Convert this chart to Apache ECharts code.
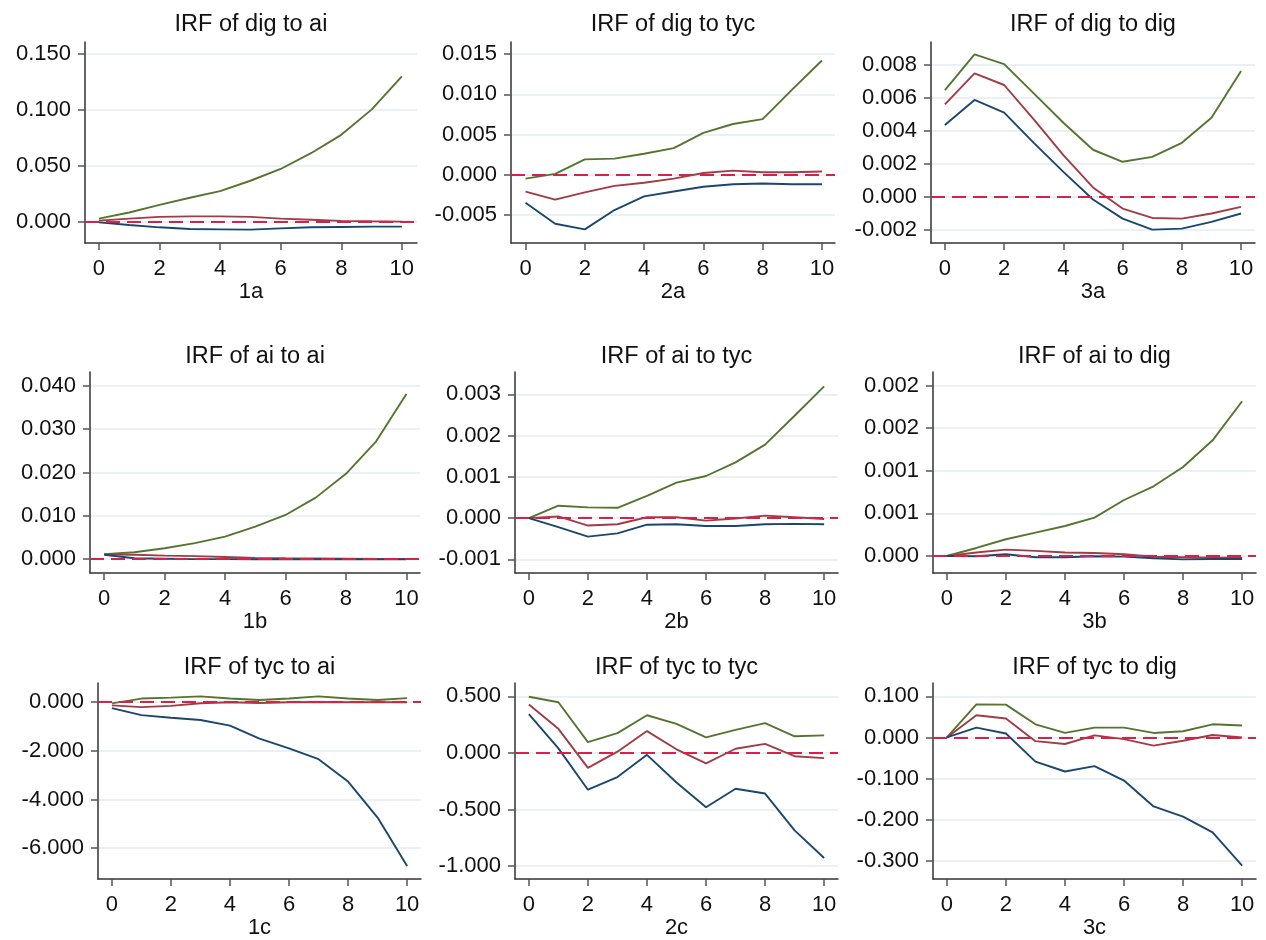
<!DOCTYPE html>
<html>
<head>
<meta charset="utf-8">
<title>IRF</title>
<script src="https://cdn.jsdelivr.net/npm/echarts@6/dist/echarts.min.js"></script>
<style>
    html, body { margin: 0; padding: 0; background: #fff; }
    #main { width: 1266px; height: 940px; }
</style>
</head>
<body>
<div id="main"></div>
<script>
var steps = [0, 1, 2, 3, 4, 5, 6, 7, 8, 9, 10];
var xTicks = [0, 2, 4, 6, 8, 10];

var panelTitles = ['IRF of dig to ai', 'IRF of dig to tyc', 'IRF of dig to dig',
    'IRF of ai to ai', 'IRF of ai to tyc', 'IRF of ai to dig',
    'IRF of tyc to ai', 'IRF of tyc to tyc', 'IRF of tyc to dig'];
var panelNames = ['1a', '2a', '3a', '1b', '2b', '3b', '1c', '2c', '3c'];

// 1a dig -> ai
var digAiUpper = [0.0030, 0.0084, 0.0153, 0.0216, 0.0275, 0.0368, 0.0473, 0.0614, 0.0778, 0.1003, 0.1300];
var digAiIrf = [0.0012, 0.0030, 0.0045, 0.0050, 0.0050, 0.0045, 0.0030, 0.0020, 0.0010, 0.0006, 0.0003];
var digAiLower = [-0.0004, -0.0027, -0.0048, -0.0063, -0.0066, -0.0069, -0.0057, -0.0048, -0.0045, -0.0042, -0.0042];
// 2a dig -> tyc
var digTycUpper = [-0.0005, 0.0001, 0.0019, 0.0020, 0.0026, 0.0033, 0.0052, 0.0063, 0.0069, 0.0106, 0.0142];
var digTycIrf = [-0.0021, -0.0031, -0.0022, -0.0014, -0.0010, -0.0005, 0.0002, 0.0005, 0.0003, 0.0003, 0.0004];
var digTycLower = [-0.0035, -0.0061, -0.0068, -0.0044, -0.0027, -0.0021, -0.0015, -0.0012, -0.0011, -0.0012, -0.0012];
// 3a dig -> dig
var digDigUpper = [0.00648, 0.00865, 0.00806, 0.00628, 0.00450, 0.00286, 0.00213, 0.00243, 0.00328, 0.00480, 0.00764];
var digDigIrf = [0.00561, 0.00750, 0.00679, 0.00470, 0.00253, 0.00057, -0.00071, -0.00128, -0.00132, -0.00101, -0.00061];
var digDigLower = [0.00436, 0.00588, 0.00511, 0.00328, 0.00152, -0.00016, -0.00132, -0.00199, -0.00193, -0.00152, -0.00101];
// 1b ai -> ai
var aiAiUpper = [0.00115, 0.0016, 0.0025, 0.0037, 0.0052, 0.0075, 0.0102, 0.0142, 0.0197, 0.0272, 0.0381];
var aiAiIrf = [0.0011, 0.0010, 0.0008, 0.0007, 0.0005, 0.0003, 0.0002, 0.00015, 0.0001, 0.00005, 0.00003];
var aiAiLower = [0.0010, 0.0002, 0.0001, 0.0000, 0.0000, -0.00003, -0.00003, -0.00004, -0.00004, -0.00005, -0.00005];
// 2b ai -> tyc
var aiTycUpper = [0.0, 0.00030, 0.00026, 0.00025, 0.00054, 0.00086, 0.00102, 0.00135, 0.00178, 0.00248, 0.00319];
var aiTycIrf = [0.0, 0.00004, -0.00018, -0.00015, 0.00002, 0.00002, -0.00006, -0.00001, 0.00006, 0.00002, -0.00002];
var aiTycLower = [0.0, -0.00022, -0.00045, -0.00037, -0.00016, -0.00015, -0.00019, -0.00019, -0.00015, -0.00014, -0.00015];
// 3b ai -> dig
var aiDigUpper = [0.0, 0.000094, 0.000196, 0.000274, 0.000352, 0.000450, 0.000657, 0.000818, 0.001045, 0.001358, 0.001816];
var aiDigIrf = [0.0, 0.000040, 0.000074, 0.000060, 0.000040, 0.000035, 0.000020, -0.000010, -0.000015, -0.000020, -0.000020];
var aiDigLower = [0.0, -0.000004, 0.000020, -0.000015, -0.000015, -0.000004, -0.000008, -0.000027, -0.000040, -0.000035, -0.000035];
// 1c tyc -> ai
var tycAiUpper = [-0.05, 0.15, 0.19, 0.24, 0.15, 0.09, 0.15, 0.24, 0.15, 0.09, 0.17];
var tycAiIrf = [-0.13, -0.20, -0.15, -0.04, 0.00, -0.03, 0.00, 0.01, 0.00, 0.00, 0.00];
var tycAiLower = [-0.24, -0.53, -0.64, -0.73, -0.96, -1.50, -1.90, -2.34, -3.26, -4.74, -6.73];
// 2c tyc -> tyc
var tycTycUpper = [0.497, 0.448, 0.095, 0.175, 0.333, 0.256, 0.138, 0.204, 0.264, 0.147, 0.155];
var tycTycIrf = [0.428, 0.213, -0.132, 0.011, 0.193, 0.032, -0.092, 0.037, 0.080, -0.029, -0.046];
var tycTycLower = [0.342, 0.040, -0.325, -0.213, -0.017, -0.261, -0.480, -0.316, -0.359, -0.684, -0.928];
// 3c tyc -> dig
var tycDigUpper = [0.0, 0.0806, 0.080, 0.032, 0.011, 0.024, 0.024, 0.011, 0.015, 0.032, 0.029];
var tycDigIrf = [0.0, 0.054, 0.046, -0.009, -0.016, 0.005, -0.004, -0.020, -0.008, 0.006, 0.0];
var tycDigLower = [0.0, 0.024, 0.0095, -0.059, -0.083, -0.070, -0.105, -0.168, -0.193, -0.231, -0.312];

var upperList = [digAiUpper, digTycUpper, digDigUpper, aiAiUpper, aiTycUpper, aiDigUpper, tycAiUpper, tycTycUpper, tycDigUpper];
var irfList = [digAiIrf, digTycIrf, digDigIrf, aiAiIrf, aiTycIrf, aiDigIrf, tycAiIrf, tycTycIrf, tycDigIrf];
var lowerList = [digAiLower, digTycLower, digDigLower, aiAiLower, aiTycLower, aiDigLower, tycAiLower, tycTycLower, tycDigLower];

// y axis ticks and their printed labels
var yTicks = [
    [0, 0.05, 0.10, 0.15],
    [-0.005, 0, 0.005, 0.010, 0.015],
    [-0.002, 0, 0.002, 0.004, 0.006, 0.008],
    [0, 0.010, 0.020, 0.030, 0.040],
    [-0.001, 0, 0.001, 0.002, 0.003],
    [0, 0.0005, 0.0010, 0.0015, 0.0020],
    [-6, -4, -2, 0],
    [-1, -0.5, 0, 0.5],
    [-0.3, -0.2, -0.1, 0, 0.1]
];
var yTickLabels = [
    ['0.000', '0.050', '0.100', '0.150'],
    ['-0.005', '0.000', '0.005', '0.010', '0.015'],
    ['-0.002', '0.000', '0.002', '0.004', '0.006', '0.008'],
    ['0.000', '0.010', '0.020', '0.030', '0.040'],
    ['-0.001', '0.000', '0.001', '0.002', '0.003'],
    ['0.000', '0.001', '0.001', '0.002', '0.002'],
    ['-6.000', '-4.000', '-2.000', '0.000'],
    ['-1.000', '-0.500', '0.000', '0.500'],
    ['-0.300', '-0.200', '-0.100', '0.000', '0.100']
];
var yMin = [-0.0188, -0.0085, -0.0028, -0.0032, -0.00133, -0.0002, -7.27, -1.115, -0.345];
var yMax = [0.1607, 0.0165, 0.0094, 0.0432, 0.00354, 0.00216, 0.79, 0.618, 0.1326];
var xMin = [-0.46, -0.49, -0.47, -0.47, -0.47, -0.47, -0.47, -0.47, -0.47];
var xMax = [10.5, 10.44, 10.47, 10.45, 10.47, 10.47, 10.47, 10.47, 10.47];

// plot boxes [left, top, width, height]
var boxes = [
    [85, 42, 332, 201], [511, 42, 324, 201], [931, 42, 324, 201],
    [90, 372, 330, 201], [515, 372, 323, 201], [933, 372, 323, 201],
    [98, 683, 323, 201], [515, 683, 323, 201], [933, 683, 323, 201]
];
var titleY = [25, 25, 25, 357, 357, 357, 668, 668, 668];

var fontFamily = "'Liberation Sans', Arial, sans-serif";
var textColor = '#111';
var colUpper = '#55752f';
var colIrf = '#a03c44';
var colLower = '#1a476f';
var colZero = '#d8204a';

function pairs(values) {
    return steps.map(function (s, i) { return [s, values[i]]; });
}

function tickFormatter(k) {
    return function (v) {
        for (var i = 0; i < yTicks[k].length; i++) {
            if (Math.abs(yTicks[k][i] - v) < 1e-9) {
                return yTickLabels[k][i];
            }
        }
        return '';
    };
}

var grids = [], xAxes = [], yAxes = [], series = [], graphics = [];

for (var k = 0; k < 9; k++) {
    var b = boxes[k];
    grids.push({ left: b[0], top: b[1], width: b[2], height: b[3], containLabel: false });

    xAxes.push({
        type: 'value',
        gridIndex: k,
        min: xMin[k],
        max: xMax[k],
        name: panelNames[k],
        nameLocation: 'middle',
        nameGap: 37,
        nameTextStyle: { fontSize: 22, color: textColor, fontFamily: fontFamily },
        axisLine: { show: true, onZero: false, lineStyle: { color: '#333', width: 1.5 } },
        axisTick: { show: true, length: 7, customValues: xTicks, lineStyle: { color: '#555', width: 1.5 } },
        axisLabel: { customValues: xTicks, margin: 15, fontSize: 22, color: textColor, fontFamily: fontFamily },
        splitLine: { show: false }
    });

    yAxes.push({
        type: 'value',
        gridIndex: k,
        min: yMin[k],
        max: yMax[k],
        axisLine: { show: true, onZero: false, lineStyle: { color: '#333', width: 1.5 } },
        axisTick: { show: true, length: 7, customValues: yTicks[k], lineStyle: { color: '#555', width: 1.5 } },
        axisLabel: {
            customValues: yTicks[k],
            margin: 14,
            fontSize: 22,
            color: textColor,
            fontFamily: fontFamily,
            formatter: tickFormatter(k)
        },
        splitLine: { show: true, lineStyle: { color: '#e3ecf0', width: 1.5 } }
    });

    var lines = [[upperList[k], colUpper], [irfList[k], colIrf], [lowerList[k], colLower]];
    for (var j = 0; j < lines.length; j++) {
        var s = {
            type: 'line',
            xAxisIndex: k,
            yAxisIndex: k,
            data: pairs(lines[j][0]),
            symbol: 'none',
            lineStyle: { color: lines[j][1], width: 1.9 },
            silent: true,
            z: 3
        };
        if (j === 2) {
            s.markLine = {
                silent: true,
                symbol: 'none',
                label: { show: false },
                lineStyle: { color: colZero, width: 2, type: [14, 7] },
                data: [{ yAxis: 0 }],
                z: 5
            };
        }
        series.push(s);
    }

    graphics.push({
        type: 'text',
        x: b[0] + b[2] / 2,
        y: titleY[k],
        style: {
            text: panelTitles[k],
            textAlign: 'center',
            textVerticalAlign: 'middle',
            fontSize: 23.5,
            fontFamily: fontFamily,
            fill: textColor
        }
    });
}

var chart = echarts.init(document.getElementById('main'));
chart.setOption({
    animation: false,
    backgroundColor: '#fff',
    grid: grids,
    xAxis: xAxes,
    yAxis: yAxes,
    series: series,
    graphic: graphics
});
</script>
</body>
</html>
